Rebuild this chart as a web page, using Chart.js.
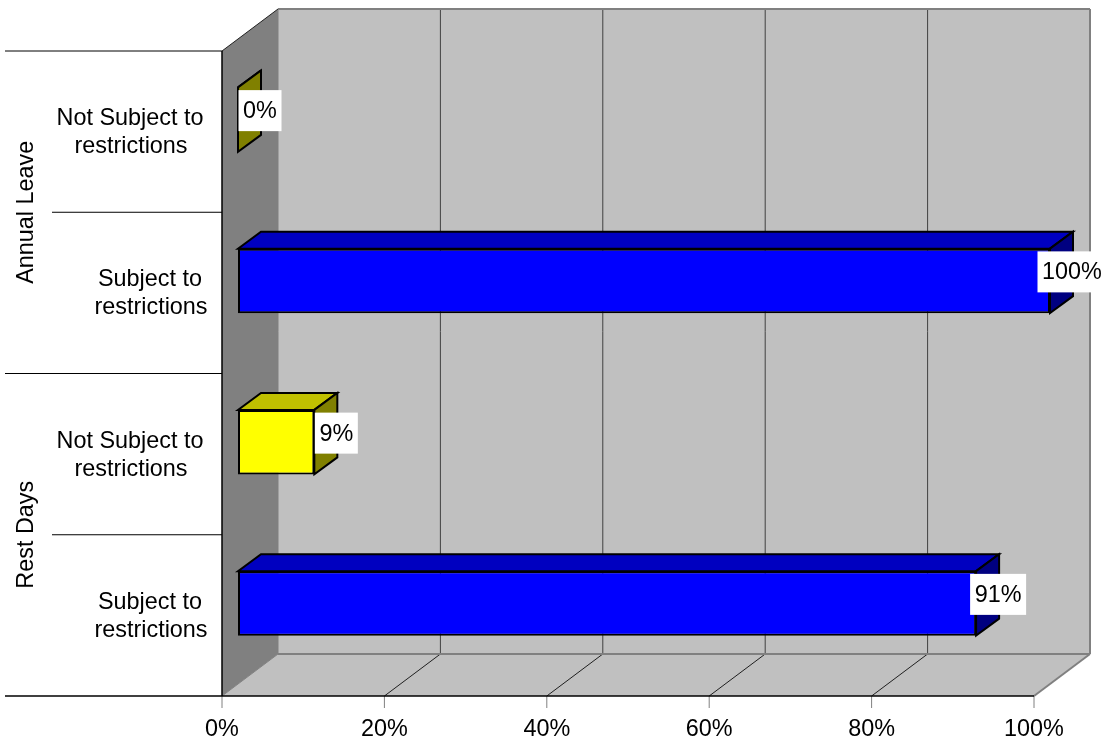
<!DOCTYPE html>
<html><head><meta charset="utf-8">
<style>html,body{margin:0;padding:0;background:#fff}canvas{display:block}</style>
<script src="https://cdn.jsdelivr.net/npm/chart.js@4"></script>
</head><body><canvas id="c" width="1106" height="743"></canvas>
<script>
const categories = [
  ["Not Subject to","restrictions"],
  ["Subject to","restrictions"],
  ["Not Subject to","restrictions"],
  ["Subject to","restrictions"]
];
const groups = ["Annual Leave","Rest Days"];
const values = [0, 100, 9.4, 90.9];
const valueLabels = ["0%","100%","9%","91%"];
const frontColors = ["#FFFF00","#0000FF","#FFFF00","#0000FF"];
const topColors = ["#C0C000","#0000C0","#C0C000","#0000C0"];
const sideColors = ["#808000","#000080","#808000","#000080"];
const labelCenters = [131, 151, 131, 151];
const FONT = '"Liberation Sans", Arial, sans-serif';
const FS = 23.4;
const WALL = {dx:56, dy:-42};
const BAR_SHIFT = {dx:16, dy:-12};
const BAR_DEPTH = {dx:23, dy:-17};

function poly(ctx, pts, fill, stroke, lw){
  ctx.beginPath();
  pts.forEach((p,i)=> i?ctx.lineTo(p[0],p[1]):ctx.moveTo(p[0],p[1]));
  ctx.closePath();
  if(fill){ctx.fillStyle=fill;ctx.fill();}
  if(stroke){ctx.strokeStyle=stroke;ctx.lineWidth=lw||1;ctx.stroke();}
}
function line(ctx,x1,y1,x2,y2,c,w){
  ctx.beginPath();ctx.moveTo(x1,y1);ctx.lineTo(x2,y2);ctx.strokeStyle=c;ctx.lineWidth=w||1;ctx.stroke();
}
const scene = {
  id:'scene',
  beforeDatasetsDraw(chart){
    const {ctx,chartArea:a,scales:{x,y}} = chart;
    const dx=WALL.dx, dy=WALL.dy;
    ctx.save();
    poly(ctx,[[a.left,a.bottom],[a.right,a.bottom],[a.right+dx,a.bottom+dy],[a.left+dx,a.bottom+dy]],'#C0C0C0');
    poly(ctx,[[a.left+dx,a.top+dy],[a.right+dx,a.top+dy],[a.right+dx,a.bottom+dy],[a.left+dx,a.bottom+dy]],'#C0C0C0');
    poly(ctx,[[a.left,a.top],[a.left+dx,a.top+dy],[a.left+dx,a.bottom+dy],[a.left,a.bottom]],'#808080');
    x.ticks.forEach(t=>{
      const px=x.getPixelForValue(t.value);
      if(t.value>0 && t.value<100){
        line(ctx,px+dx,a.top+dy,px+dx,a.bottom+dy,'#404040',1);
        line(ctx,px,a.bottom,px+dx,a.bottom+dy,'#202020',1);
      }
      line(ctx,px,a.bottom,px,a.bottom+12,'#808080',1);
    });
    line(ctx,a.left+dx,a.top+dy,a.right+dx,a.top+dy,'#808080',2);
    line(ctx,a.right+dx,a.top+dy,a.right+dx,a.bottom+dy,'#808080',2);
    line(ctx,a.left+dx,a.bottom+dy,a.right+dx,a.bottom+dy,'#808080',2);
    line(ctx,a.left+dx,a.top+dy,a.left+dx,a.bottom+dy,'#808080',1);
    line(ctx,a.right,a.bottom,a.right+dx,a.bottom+dy,'#808080',2);
    line(ctx,a.left,a.top,a.left+dx,a.top+dy,'#202020',1);
    line(ctx,a.left,a.bottom,a.left+dx,a.bottom+dy,'#808080',1);
    line(ctx,a.left,a.top,a.left,a.bottom,'#000',1.5);
    line(ctx,5,a.bottom,a.right,a.bottom,'#000',1.5);
    const h=(a.bottom-a.top)/categories.length;
    for(let i=0;i<categories.length;i++){
      const yy=a.top+i*h;
      line(ctx, i%2===0?5:52, yy, a.left, yy, '#000', 1);
    }
    const meta=chart.getDatasetMeta(0);
    meta.data.forEach((b,i)=>{
      const sx=BAR_SHIFT.dx, sy=BAR_SHIFT.dy, bx=BAR_DEPTH.dx, by=BAR_DEPTH.dy;
      const l=b.base+sx, r=b.x+sx, t=b.y-b.height/2+sy, bt=b.y+b.height/2+sy;
      poly(ctx,[[l,t],[r,t],[r+bx,t+by],[l+bx,t+by]],topColors[i],'#000',2);
      poly(ctx,[[r,t],[r+bx,t+by],[r+bx,bt+by],[r,bt]],sideColors[i],'#000',2);
    });
    ctx.restore();
    ctx.save();
    ctx.translate(BAR_SHIFT.dx,BAR_SHIFT.dy);
  },
  afterDatasetsDraw(chart){
    const {ctx,chartArea:a,scales:{y}} = chart;
    ctx.restore();
    ctx.save();
    const meta=chart.getDatasetMeta(0);
    ctx.font=FS+'px '+FONT;
    ctx.textAlign='center';ctx.textBaseline='middle';
    meta.data.forEach((b,i)=>{
      const cx=b.x+BAR_SHIFT.dx+22, cy=y.getPixelForValue(i)-21;
      const w=Math.round(ctx.measureText(valueLabels[i]).width)+9;
      ctx.fillStyle='#fff';
      ctx.fillRect(cx-w/2,cy-20.5,w,41);
      ctx.fillStyle='#000';
      ctx.fillText(valueLabels[i],cx,cy+1);
    });
    categories.forEach((lines,i)=>{
      const cy=y.getPixelForValue(i);
      ctx.fillStyle='#000';
      ctx.fillText(lines[0],labelCenters[i]-1,cy-13);
      ctx.fillText(lines[1],labelCenters[i],cy+15);
    });
    const h=(a.bottom-a.top)/groups.length;
    groups.forEach((g,i)=>{
      ctx.save();
      ctx.translate(26.5,a.top+h*(i+0.5));
      ctx.rotate(-Math.PI/2);
      ctx.fillStyle='#000';
      ctx.fillText(g,0,0);
      ctx.restore();
    });
    ctx.restore();
  }
};
new Chart(document.getElementById('c'),{
  type:'bar',
  plugins:[scene],
  data:{
    labels:categories,
    datasets:[{
      data:values,
      backgroundColor:frontColors,
      borderColor:'#000',
      borderWidth:2,
      borderSkipped:false,
      categoryPercentage:1,
      barPercentage:0.4,
      clip:false
    }]
  },
  options:{
    indexAxis:'y',
    responsive:false,
    animation:false,
    devicePixelRatio:1,
    layout:{padding:{top:51,right:72,left:0,bottom:0}},
    plugins:{legend:{display:false},tooltip:{enabled:false},title:{display:false}},
    scales:{
      x:{
        min:0,max:100,
        afterFit(s){s.height=47;},
        grid:{display:false},
        border:{display:false},
        ticks:{
          stepSize:20,autoSkip:false,maxRotation:0,minRotation:0,
          padding:12,color:'#000',
          font:{family:FONT,size:FS},
          callback:v=>v+'%'
        }
      },
      y:{
        afterFit(s){s.width=222;},
        grid:{display:false},
        border:{display:false},
        ticks:{display:false}
      }
    }
  }
});
</script></body></html>
